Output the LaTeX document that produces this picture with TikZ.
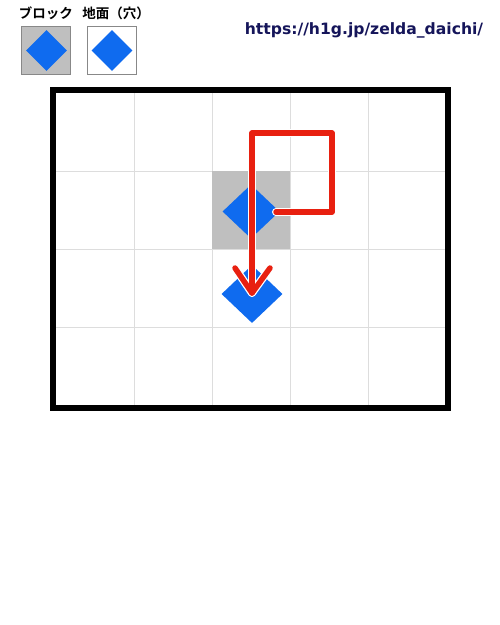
\documentclass[tikz,border=0pt]{standalone}
\usepackage{fontspec}
\newfontfamily\cjkfont{Noto Sans CJK JP}[BoldFont={Noto Sans CJK JP Bold}]
\newfontfamily\urlfont{DejaVu Sans}
\usetikzlibrary{shapes.geometric}
\definecolor{gemblue}{HTML}{0F6BEF}
\definecolor{blockgray}{HTML}{BFBFBF}
\definecolor{gridgray}{HTML}{DDDDDD}
\definecolor{pathred}{HTML}{E82010}
\definecolor{urlnavy}{HTML}{15155A}
\definecolor{boxedge}{HTML}{888888}
\tikzset{
  gem/.style={diamond, aspect=1, fill=gemblue, inner sep=0pt, draw=none},
  gridline/.style={draw=gridgray, line width=1pt},
  legendbox/.style={draw=boxedge, line width=1pt, minimum width=49pt, minimum height=48pt, inner sep=0pt},
  legendtext/.style={font=\cjkfont\bfseries\fontsize{13.5}{16}\selectfont, inner sep=0pt},
  halo/.style={draw=white, line width=8pt, line cap=round, line join=round},
  redline/.style={draw=pathred, line width=5.5pt, line cap=round, line join=round},
}
\begin{document}
\begin{tikzpicture}[x=1pt,y=-1pt]
\useasboundingbox (0,0) rectangle (500,625);
\fill[white] (0,0) rectangle (500,625);
% legend
\node[legendtext] (lblblock) at (46,13) {ブロック};
\node[legendtext] (lblground) at (116,13) {地面（穴）};
\node[legendbox, fill=blockgray] (legblock) at (45.8,50) {};
\node[legendbox, fill=white] (legground) at (111.8,50) {};
\node[gem, minimum width=41pt, minimum height=41pt] (legblockgem) at (46.5,50.5) {};
\node[gem, minimum width=41pt, minimum height=41pt] (leggroundgem) at (112,50.5) {};
% url
\node[font=\urlfont\bfseries\fontsize{15.6}{18}\selectfont, text=urlnavy, inner sep=0pt] (url) at (364,30) {https://h1g.jp/zelda\_daichi/};
% grid
\foreach \xx in {134,212,290,368} \draw[gridline] (\xx,93) -- (\xx,405);
\foreach \yy in {171,249,327} \draw[gridline] (56,\yy) -- (445,\yy);
\fill[blockgray] (212,171) rectangle (290,249);
\draw[line width=6pt] (53,90) rectangle (448,408);
% gems
\node[gem, minimum width=57pt, minimum height=54pt] (gemup) at (251,211.5) {};
\node[gem, minimum width=61pt, minimum height=58pt] (gemdown) at (252,294) {};
% path
\coordinate (start) at (276,212);
\coordinate (c1) at (332,212);
\coordinate (c2) at (332,133);
\coordinate (c3) at (252,133);
\coordinate (tip) at (252,293);
\coordinate (armL) at (235,268);
\coordinate (armR) at (270,268);
\draw[halo] (start) -- (c1) -- (c2) -- (c3) -- (tip);
\draw[halo] (armL) -- (tip) -- (armR);
\draw[redline] (start) -- (c1) -- (c2) -- (c3) -- (tip);
\draw[redline] (armL) -- (tip) -- (armR);
\end{tikzpicture}
\end{document}
